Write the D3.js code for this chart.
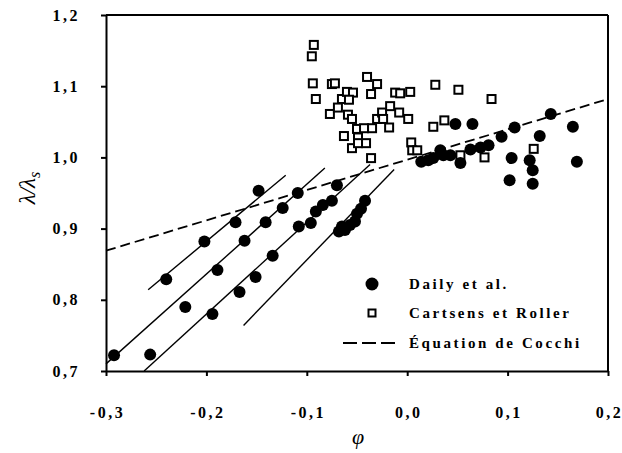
<!DOCTYPE html>
<html><head><meta charset="utf-8">
<script src="https://cdn.jsdelivr.net/npm/d3@7"></script>
<style>
body{margin:0;background:#fff;}
svg{display:block;}
svg text{font-family:"Liberation Serif","DejaVu Serif",serif !important;fill:#000;}
</style></head>
<body><svg id="c" width="622" height="453"></svg>
<script>
// ---- data ----
const xTicks = [-0.3, -0.2, -0.1, 0.0, 0.1, 0.2];
const yTicks = [0.7, 0.8, 0.9, 1.0, 1.1, 1.2];
const seriesNames = ["Daily et al.", "Cartsens et Roller", "Équation de Cocchi"];
const dailyPhi = [-0.292,-0.256,-0.221,-0.194,-0.240,-0.202,-0.189,-0.167,-0.171,-0.162,-0.151,-0.148,-0.141,-0.134,-0.124,-0.109,-0.108,-0.096,-0.091,-0.084,-0.075,-0.070,-0.068,-0.065,-0.062,-0.057,-0.052,-0.050,-0.046,-0.042,
  0.014,0.021,0.026,0.033,0.036,0.043,0.048,0.053,0.065,0.063,0.073,0.081,0.094,0.107,0.104,0.102,0.132,0.122,0.125,0.125,0.143,0.165,0.169];
const dailyLambda = [0.722,0.723,0.790,0.780,0.829,0.882,0.842,0.811,0.909,0.883,0.832,0.953,0.909,0.862,0.929,0.950,0.903,0.908,0.924,0.933,0.939,0.961,0.896,0.903,0.898,0.905,0.910,0.921,0.928,0.939,
  0.994,0.996,0.999,1.010,1.003,1.003,1.047,0.992,1.047,1.011,1.014,1.017,1.029,1.042,0.999,0.968,1.030,0.996,0.982,0.963,1.061,1.043,0.994];
const carstensPhi = [-0.093,-0.095,-0.094,-0.091,-0.075,-0.072,-0.077,-0.069,-0.065,-0.060,-0.054,-0.058,-0.059,-0.055,-0.063,-0.055,-0.050,-0.049,-0.049,-0.043,-0.041,-0.040,-0.030,-0.036,-0.035,-0.036,-0.030,-0.025,-0.024,-0.018,-0.017,-0.012,-0.007,-0.008,0.001,0.003,0.004,0.005,0.010,0.028,0.026,0.037,0.051,0.053,0.077,0.084,0.126];
const carstensLambda = [1.158,1.142,1.104,1.082,1.103,1.104,1.061,1.070,1.082,1.092,1.091,1.081,1.060,1.054,1.030,1.013,1.040,1.028,1.020,1.041,1.020,1.113,1.103,1.089,1.041,0.999,1.054,1.063,1.054,1.042,1.072,1.091,1.090,1.063,1.054,1.092,1.021,1.010,1.010,1.102,1.043,1.052,1.095,1.003,1.000,1.082,1.012];
// fitted solid lines: [phiStart, lambdaStart, phiEnd, lambdaEnd]
const fitLines = [
  [-0.258, 0.814, -0.121, 0.975],
  [-0.300, 0.710, -0.082, 0.985],
  [-0.262, 0.700, -0.037, 0.990],
  [-0.163, 0.764, -0.013, 0.983]
];
const cocchiPhi = [-0.3, 0.2];
const cocchiLambda = [0.869, 1.082];

// ---- chart ----
const svg = d3.select("#c");
const L = 106, R = 608, T = 15, B = 371;
const x = d3.scaleLinear().domain([-0.3, 0.2]).range([L, R]);
const y = d3.scaleLinear().domain([0.7, 1.2]).range([B, T]);
const fmt = d => d.toFixed(1).replace(".", ",");
const SERIF = '"Liberation Serif", "DejaVu Serif", serif';

const gx = svg.append("g").attr("transform", `translate(0,${B})`)
  .call(d3.axisBottom(x).tickValues(xTicks).tickFormat(fmt).tickSize(5).tickPadding(31).tickSizeOuter(0));
const gy = svg.append("g").attr("transform", `translate(${L},0)`)
  .call(d3.axisLeft(y).tickValues(yTicks).tickFormat(fmt).tickSize(5).tickPadding(21).tickSizeOuter(0));
[gx, gy].forEach(g => {
  g.attr("font-family", null);
  g.select(".domain").attr("stroke", "#000").attr("stroke-width", 2);
  g.selectAll(".tick line").attr("stroke", "#000").attr("stroke-width", 2);
  g.selectAll(".tick text").style("font-family", SERIF).style("font-size", "16px")
    .style("font-weight", "bold").attr("letter-spacing", "2.5px").attr("fill", "#000");
});
gx.selectAll(".tick text").attr("dx", "1px");
// frame top & right
svg.append("line").attr("x1", x(-0.3)).attr("x2", x(0.2)).attr("y1", y(1.2)).attr("y2", y(1.2)).attr("stroke", "#000").attr("stroke-width", 2);
svg.append("line").attr("x1", x(0.2)).attr("x2", x(0.2)).attr("y1", y(1.2)).attr("y2", y(0.7)).attr("stroke", "#000").attr("stroke-width", 2);

const plot = svg.append("g");
// fitted lines
plot.selectAll("line.fit").data(fitLines).join("line").attr("class", "fit")
  .attr("x1", d => x(d[0])).attr("y1", d => y(d[1])).attr("x2", d => x(d[2])).attr("y2", d => y(d[3]))
  .attr("stroke", "#000").attr("stroke-width", 1.4);
// Cocchi dashed
const cocchi = cocchiPhi.map((p, i) => [p, cocchiLambda[i]]);
plot.append("path").datum(cocchi)
  .attr("d", d3.line().x(d => x(d[0])).y(d => y(d[1])))
  .attr("fill", "none").attr("stroke", "#000").attr("stroke-width", 1.8).attr("stroke-dasharray", "10,5");
// Carstens squares
const sq = 8;
plot.selectAll("rect.c").data(carstensPhi.map((p, i) => [p, carstensLambda[i]])).join("rect").attr("class", "c")
  .attr("x", d => x(d[0]) - sq / 2).attr("y", d => y(d[1]) - sq / 2).attr("width", sq).attr("height", sq)
  .attr("fill", "#fff").attr("stroke", "#000").attr("stroke-width", 2);
// Daily circles
plot.selectAll("circle.d").data(dailyPhi.map((p, i) => [p, dailyLambda[i]])).join("circle").attr("class", "d")
  .attr("cx", d => x(d[0])).attr("cy", d => y(d[1])).attr("r", 6).attr("fill", "#000");

// legend
const lg = svg.append("g");
const lx = 372, tx = 409, ly = [284, 313, 343];
lg.append("circle").attr("cx", lx).attr("cy", ly[0]).attr("r", 6.5).attr("fill", "#000");
lg.append("rect").attr("x", lx - 3.5).attr("y", ly[1] - 3.5).attr("width", 7).attr("height", 7)
  .attr("fill", "#fff").attr("stroke", "#000").attr("stroke-width", 2);
lg.append("line").attr("x1", 343).attr("x2", 397).attr("y1", ly[2]).attr("y2", ly[2])
  .attr("stroke", "#000").attr("stroke-width", 1.8).attr("stroke-dasharray", "14,5");
lg.selectAll("text").data(seriesNames).join("text")
  .attr("x", tx).attr("y", (d, i) => ly[i] + 5)
  .style("font-family", SERIF).style("font-size", "15px").style("font-weight", "bold")
  .attr("letter-spacing", "2.6px").text(d => d);

// axis titles
svg.append("text").attr("x", 358).attr("y", 444).attr("text-anchor", "middle")
  .style("font-family", SERIF).style("font-size", "22px").style("font-style", "italic").text("φ");
const yt = svg.append("text").attr("transform", "translate(35,188) rotate(-90)").attr("text-anchor", "middle")
  .style("font-family", SERIF).style("font-size", "23px").style("font-style", "italic");
yt.append("tspan").text("λ/λ");
yt.append("tspan").style("font-size", "16px").attr("dy", 5).text("s");
</script></body></html>
